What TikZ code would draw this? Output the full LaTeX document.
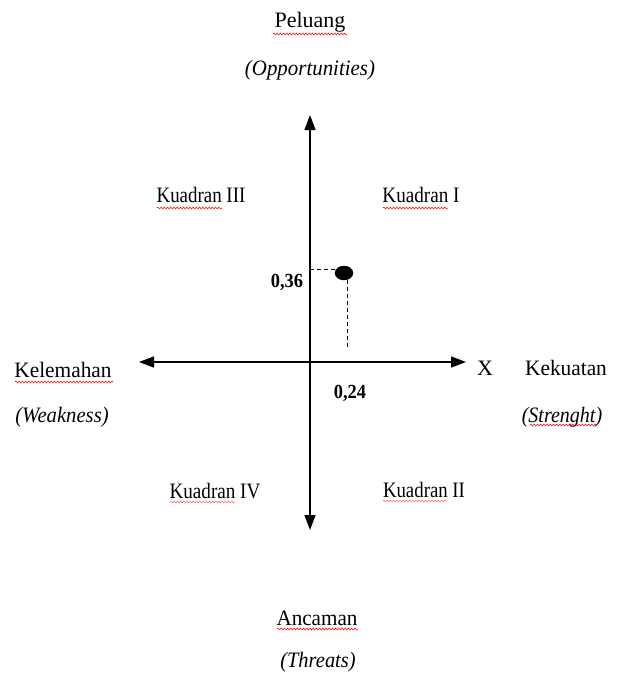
\documentclass[tikz,border=0pt]{standalone}
\usepackage{fontspec}
\usepackage{graphicx}
\setmainfont{Liberation Serif}
\usetikzlibrary{arrows.meta,decorations.pathmorphing,shapes.geometric}
\newcommand{\hsq}[2]{\scalebox{#1}[1]{#2}}
\begin{document}
\begin{tikzpicture}[x=1pt,y=-1pt,
  lbl/.style={inner sep=0pt,anchor=base,font=\fontsize{22}{26}\selectfont},
  ilbl/.style={lbl,font=\fontsize{22}{26}\selectfont\itshape},
  num/.style={lbl,font=\fontsize{20}{24}\selectfont\bfseries},
  axis/.style={line width=1.3pt,{Triangle[length=15pt,width=11pt]}-{Triangle[length=15pt,width=11pt]}},
  guide/.style={dashed,line width=0.8pt,dash pattern=on 4pt off 3pt},
  wavy/.style={red,line width=0.5pt,decorate,decoration={snake,amplitude=1pt,segment length=3.2pt}}]
\useasboundingbox (0,0) rectangle (617,675);
% axes
\coordinate (top) at (310,115);
\coordinate (bot) at (310,530);
\coordinate (left) at (139,362);
\coordinate (right) at (466,362);
\draw[axis] (bot) -- (top);
\draw[axis] (left) -- (right);
% point
\node[draw,fill=black,ellipse,minimum width=18pt,minimum height=14pt,inner sep=0pt] (pt) at (344,273) {};
\coordinate (yax) at (310,269);
\coordinate (xax) at (347,350);
\draw[guide] (yax) -- (pt.west |- yax);
\draw[guide] (pt.south -| xax) -- (xax);
\node[num] (v36) at (287,287) {\hsq{0.92}{0,36}};
\node[num] (v24) at (350,398) {\hsq{0.92}{0,24}};
% labels
\node[lbl] (pel) at (310,27) {Peluang};
\node[ilbl] (opp) at (310,75) {\hsq{0.95}{(Opportunities)}};
\node[lbl] (k3) at (201,202) {\hsq{0.86}{Kuadran III}};
\node[lbl] (k1) at (421,202) {\hsq{0.87}{Kuadran I}};
\node[lbl] (k4) at (215,498) {\hsq{0.87}{Kuadran IV}};
\node[lbl] (k2) at (424,497) {\hsq{0.855}{Kuadran II}};
\node[lbl] (kel) at (63,377) {\hsq{0.97}{Kelemahan}};
\node[ilbl] (weak) at (62,422) {\hsq{0.94}{(Weakness)}};
\node[lbl] (xl) at (485,375) {X};
\node[lbl] (kek) at (566,375) {\hsq{0.97}{Kekuatan}};
\node[ilbl] (str) at (562,422) {\hsq{0.91}{(Strenght)}};
\node[lbl] (anc) at (317,625) {\hsq{0.96}{Ancaman}};
\node[ilbl] (thr) at (318,667) {\hsq{0.93}{(Threats)}};
% spell-check underlines
\draw[wavy] (273,34) -- (347,34);
\draw[wavy] (157,208) -- (222,208);
\draw[wavy] (383,208) -- (448,208);
\draw[wavy,red!60] (170,502) -- (235,502);
\draw[wavy,red!60] (383,501) -- (447,501);
\draw[wavy] (15,382) -- (113,382);
\draw[wavy] (530,425) -- (597,425);
\draw[wavy] (277,629) -- (358,629);
\end{tikzpicture}
\end{document}
